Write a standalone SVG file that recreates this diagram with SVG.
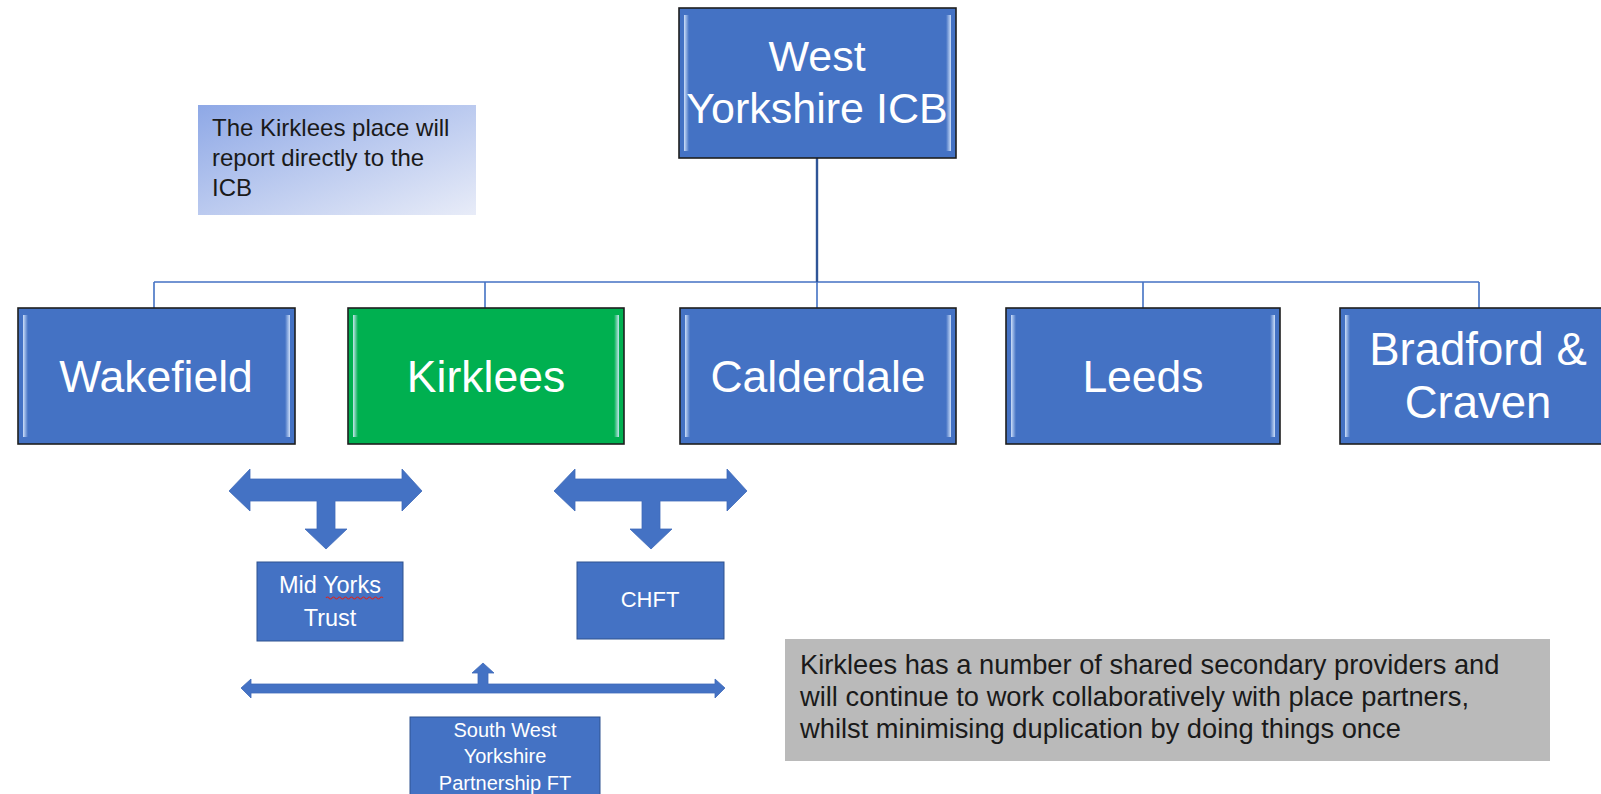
<svg xmlns="http://www.w3.org/2000/svg" width="1601" height="794" viewBox="0 0 1601 794">
<defs>
<linearGradient id="noteGrad" x1="0" y1="0" x2="1" y2="1">
<stop offset="0" stop-color="#8EA8E6"/>
<stop offset="1" stop-color="#E8ECF8"/>
</linearGradient>
<linearGradient id="bevL" x1="0" y1="0" x2="1" y2="0">
<stop offset="0" stop-color="#DCEBFF" stop-opacity="0.9"/>
<stop offset="1" stop-color="#DCEBFF" stop-opacity="0"/>
</linearGradient>
<linearGradient id="bevR" x1="0" y1="0" x2="1" y2="0">
<stop offset="0" stop-color="#DCEBFF" stop-opacity="0"/>
<stop offset="1" stop-color="#DCEBFF" stop-opacity="0.9"/>
</linearGradient>
</defs>
<style>
.big{fill:#4472C4;stroke:#1E1E1E;stroke-width:1.6}
.green{fill:#00B050;stroke:#1E1E1E;stroke-width:1.6}
.small{fill:#4472C4;stroke:#2F528F;stroke-width:1}
.bl{fill:url(#bevL)}
.br{fill:url(#bevR)}
.t{font-family:"Liberation Sans",Arial,sans-serif;fill:#FFFFFF;text-anchor:middle}
.tb{font-size:44.5px}
.ts{font-size:23.5px}
.tx{font-size:20px}
.note{font-family:"Liberation Sans",Arial,sans-serif;fill:#1A1A1A}
.conn{fill:none;stroke:#4472C4;stroke-width:1.6}
.arrow{fill:#4472C4;stroke:#3F6BBA;stroke-width:0.8}
</style>
<rect width="1601" height="794" fill="#FFFFFF"/>

<g id="connectors">
<path class="conn" d="M154,282 H1479 M154,282 V308 M485,282 V308 M817,282 V308 M1143,282 V308 M1479,282 V308"/>
<path d="M817,158 V282" fill="none" stroke="#2F5597" stroke-width="2.4"/>
<path id="arrow-left" class="arrow" d="M229,491 L250,469 L250,479 L402,479 L402,469 L422,491 L402,511 L402,501 L335,501 L335,529 L347,529 L326,549 L305,529 L317,529 L317,501 L250,501 L250,511 Z"/>
<path id="arrow-right" class="arrow" d="M554,491 L575,469 L575,479 L727,479 L727,469 L747,491 L727,511 L727,501 L660,501 L660,529 L672,529 L651,549 L630,529 L642,529 L642,501 L575,501 L575,511 Z"/>
<path id="arrow-bottom" class="arrow" d="M241,688 L251,679 L251,684 L478,684 L478,673 L472,673 L483,663 L494,673 L488,673 L488,684 L715,684 L715,679 L725,688 L715,698 L715,693 L251,693 L251,698 Z"/>
</g>

<g id="icb">
<rect class="big" x="679" y="8" width="277" height="150"/>
<rect class="bl" x="684" y="15" width="5" height="136"/>
<rect class="br" x="946" y="15" width="5" height="136"/>
<text class="t" font-size="43" x="817" y="71">West</text>
<text class="t" font-size="43" x="817" y="123">Yorkshire ICB</text>
</g>

<g id="note-top">
<rect x="198" y="105" width="278" height="110" fill="url(#noteGrad)"/>
<text class="note" font-size="24" x="212" y="136">The Kirklees place will</text>
<text class="note" font-size="24" x="212" y="166">report directly to the</text>
<text class="note" font-size="24" x="212" y="196">ICB</text>
</g>

<g id="wakefield">
<rect class="big" x="18" y="308" width="277" height="136"/>
<rect class="bl" x="23" y="315" width="5" height="122"/>
<rect class="br" x="285" y="315" width="5" height="122"/>
<text class="t tb" x="156" y="392">Wakefield</text>
</g>

<g id="kirklees">
<rect class="green" x="348" y="308" width="276" height="136"/>
<rect class="bl" x="353" y="315" width="5" height="122"/>
<rect class="br" x="614" y="315" width="5" height="122"/>
<text class="t tb" x="486" y="392">Kirklees</text>
</g>

<g id="calderdale">
<rect class="big" x="680" y="308" width="276" height="136"/>
<rect class="bl" x="685" y="315" width="5" height="122"/>
<rect class="br" x="946" y="315" width="5" height="122"/>
<text class="t tb" x="818" y="392">Calderdale</text>
</g>

<g id="leeds">
<rect class="big" x="1006" y="308" width="274" height="136"/>
<rect class="bl" x="1011" y="315" width="5" height="122"/>
<rect class="br" x="1270" y="315" width="5" height="122"/>
<text class="t tb" x="1143" y="392">Leeds</text>
</g>

<g id="bradford">
<rect class="big" x="1340" y="308" width="277" height="136"/>
<rect class="bl" x="1345" y="315" width="5" height="122"/>
<text class="t" font-size="45.5" x="1478" y="365">Bradford &amp;</text>
<text class="t" font-size="45.5" x="1478" y="418">Craven</text>
</g>

<g id="midyorks">
<rect class="small" x="257" y="562" width="146" height="79"/>
<text class="t ts" x="330" y="593">Mid Yorks</text>
<text class="t ts" x="330" y="626">Trust</text>
<path d="M326,598 q1.5,-2 3,0 t3,0 t3,0 t3,0 t3,0 t3,0 t3,0 t3,0 t3,0 t3,0 t3,0 t3,0 t3,0 t3,0 t3,0 t3,0 t3,0 t3,0 t3,0" fill="none" stroke="#D12B2B" stroke-width="1.2"/>
</g>

<g id="chft">
<rect class="small" x="577" y="562" width="147" height="77"/>
<text class="t" font-size="22" x="650" y="607">CHFT</text>
</g>

<g id="swypft">
<rect class="small" x="410" y="717" width="190" height="80"/>
<text class="t tx" x="505" y="737">South West</text>
<text class="t tx" x="505" y="763">Yorkshire</text>
<text class="t tx" x="505" y="790">Partnership FT</text>
</g>

<g id="note-bottom">
<rect x="785" y="639" width="765" height="122" fill="#BABABA"/>
<text class="note" font-size="27.3" x="800" y="674">Kirklees has a number of shared secondary providers and</text>
<text class="note" font-size="27.3" x="800" y="706">will continue to work collaboratively with place partners,</text>
<text class="note" font-size="27.3" x="800" y="738">whilst minimising duplication by doing things once</text>
</g>
</svg>
